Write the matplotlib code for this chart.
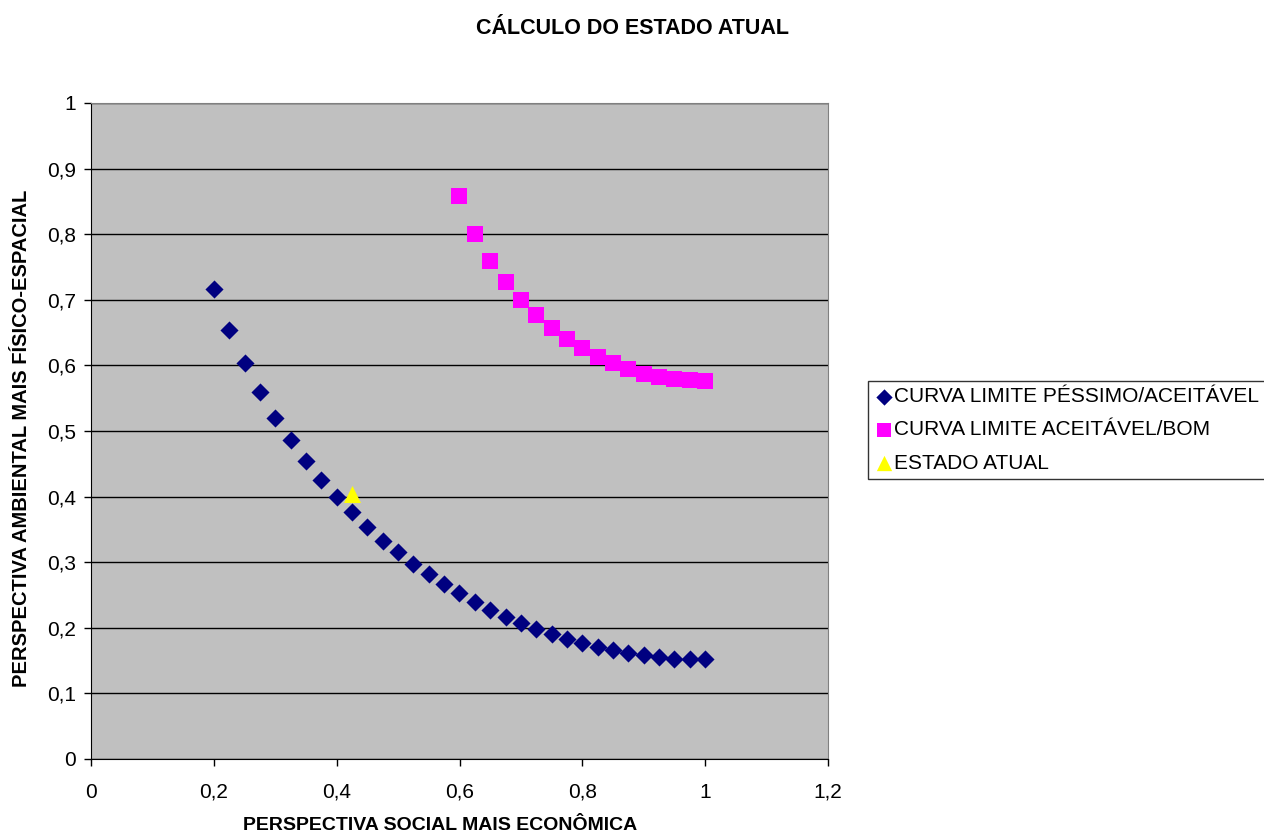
import matplotlib
matplotlib.use("Agg")
import matplotlib.pyplot as plt
from matplotlib.ticker import FuncFormatter, MultipleLocator

plt.rcParams['font.family'] = ['Liberation Sans', 'DejaVu Sans']

# Boundary curve: péssimo / aceitável
x_pessimo = [0.2, 0.225, 0.25, 0.275, 0.3, 0.325, 0.35, 0.375, 0.4, 0.425, 0.45,
             0.475, 0.5, 0.525, 0.55, 0.575, 0.6, 0.625, 0.65, 0.675, 0.7, 0.725,
             0.75, 0.775, 0.8, 0.825, 0.85, 0.875, 0.9, 0.925, 0.95, 0.975, 1.0]
y_pessimo = [0.716, 0.654, 0.604, 0.559, 0.520, 0.486, 0.454, 0.425, 0.399, 0.376,
             0.354, 0.333, 0.315, 0.297, 0.282, 0.267, 0.253, 0.239, 0.227, 0.216,
             0.207, 0.198, 0.190, 0.183, 0.177, 0.171, 0.166, 0.162, 0.158, 0.155,
             0.153, 0.152, 0.152]

# Boundary curve: aceitável / bom
x_bom = [0.6, 0.625, 0.65, 0.675, 0.7, 0.725, 0.75, 0.775, 0.8, 0.825, 0.85,
         0.875, 0.9, 0.925, 0.95, 0.975, 1.0]
y_bom = [0.858, 0.800, 0.759, 0.727, 0.700, 0.677, 0.657, 0.640, 0.627, 0.613,
         0.604, 0.594, 0.587, 0.582, 0.579, 0.577, 0.576]

# Current state
x_atual = [0.425]
y_atual = [0.404]

labels = ["CURVA LIMITE PÉSSIMO/ACEITÁVEL", "CURVA LIMITE ACEITÁVEL/BOM", "ESTADO ATUAL"]

W, H = 1264, 834
fig = plt.figure(figsize=(W / 100, H / 100), dpi=100)
ax = fig.add_axes([91 / W, 1 - 759 / H, (828 - 91) / W, (759 - 103) / H])
ax.set_facecolor('#C0C0C0')

ax.set_xlim(0, 1.2)
ax.set_ylim(0, 1)
ax.xaxis.set_major_locator(MultipleLocator(0.2))
ax.yaxis.set_major_locator(MultipleLocator(0.1))
fmt = FuncFormatter(lambda v, p: ('%g' % round(v, 2)).replace('.', ','))
ax.xaxis.set_major_formatter(fmt)
ax.yaxis.set_major_formatter(fmt)
ax.grid(axis='y', color='black', linewidth=1)
ax.set_axisbelow(True)

for side in ('top', 'right'):
    ax.spines[side].set_color('#808080')
for side in ('left', 'bottom'):
    ax.spines[side].set_color('black')

ax.tick_params(axis='both', direction='out', length=5, width=1, labelsize=15,
               colors='black')
ax.tick_params(axis='x', pad=12)
ax.tick_params(axis='y', pad=6)

ax.scatter(x_pessimo, y_pessimo, marker='D', s=85, color='#000080', linewidths=0,
           label=labels[0], zorder=3)
ax.scatter(x_bom, y_bom, marker='s', s=135, color='#FF00FF', linewidths=0,
           label=labels[1], zorder=3)
ax.scatter(x_atual, y_atual, marker='^', s=150, color='#FFFF00', linewidths=0,
           label=labels[2], zorder=4)

fig.text(0.5, 1 - 28 / H, "CÁLCULO DO ESTADO ATUAL", ha='center', va='center',
         fontsize=15.5, fontweight='bold')
fig.text(440 / W, 1 - 826 / H, "PERSPECTIVA SOCIAL MAIS ECONÔMICA", ha='center',
         va='center', fontsize=14, fontweight='bold')
fig.text(22 / W, 1 - 438 / H, "PERSPECTIVA AMBIENTAL MAIS FÍSICO-ESPACIAL",
         ha='center', va='center', rotation=90, fontsize=14.5, fontweight='bold')

leg = fig.legend(loc='upper left', bbox_to_anchor=(868 / W, 1 - 381 / H),
                 fontsize=15, frameon=True, fancybox=False, edgecolor='black',
                 handletextpad=0.05, handlelength=0.9, borderpad=0.3,
                 labelspacing=0.68, markerscale=0.9, borderaxespad=0)
leg.get_frame().set_linewidth(1)

fig.savefig("out.png", dpi=100)
